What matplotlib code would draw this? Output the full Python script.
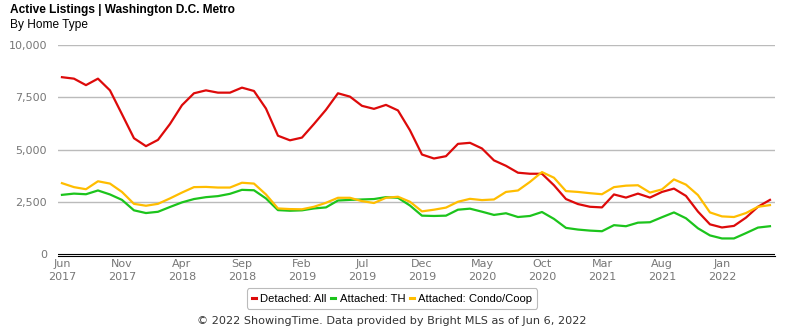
import matplotlib
matplotlib.use("Agg")
import matplotlib.pyplot as plt
from matplotlib.lines import Line2D
import numpy as np

# monthly active listings, Jun 2017 - May 2022
detached = [8460, 8390, 8080, 8390, 7830, 6690, 5540, 5160, 5460, 6220,
            7120, 7690, 7830, 7720, 7720, 7960, 7800, 6960, 5660, 5440,
            5570, 6220, 6900, 7690, 7530, 7090, 6945, 7135, 6870, 5920,
            4760, 4570, 4680, 5270, 5320, 5050, 4480, 4220, 3890, 3840,
            3840, 3290, 2630, 2390, 2260, 2230, 2850, 2700, 2890, 2700,
            2970, 3130, 2780, 2030, 1420, 1270, 1345, 1740, 2260, 2590]
townhouse = [2830, 2890, 2860, 3040, 2850, 2590, 2090, 1960, 2020, 2250,
             2470, 2630, 2720, 2770, 2880, 3070, 3050, 2660, 2100, 2070,
             2090, 2180, 2230, 2560, 2590, 2610, 2630, 2720, 2690, 2320,
             1835, 1820, 1835, 2120, 2170, 2025, 1870, 1950, 1770, 1820,
             2010, 1680, 1250, 1170, 1120, 1090, 1380, 1330, 1500, 1520,
             1760, 1990, 1710, 1230, 890, 745, 745, 1000, 1265, 1330]
condo = [3390, 3200, 3100, 3480, 3370, 2970, 2400, 2310, 2400, 2660,
         2940, 3200, 3210, 3180, 3180, 3410, 3370, 2850, 2180, 2150,
         2140, 2260, 2450, 2690, 2690, 2530, 2440, 2690, 2740, 2500,
         2040, 2120, 2220, 2500, 2640, 2580, 2610, 2970, 3040, 3450,
         3920, 3650, 3010, 2970, 2910, 2860, 3200, 3270, 3290, 2940,
         3090, 3570, 3320, 2820, 1990, 1800, 1770, 1960, 2260, 2340]

tick_labels = ["Jun\n2017", "Nov\n2017", "Apr\n2018", "Sep\n2018",
               "Feb\n2019", "Jul\n2019", "Dec\n2019", "May\n2020",
               "Oct\n2020", "Mar\n2021", "Aug\n2021", "Jan\n2022"]

series = [("Detached: All", detached, "#dd0a0a"),
          ("Attached: TH", townhouse, "#1cc41c"),
          ("Attached: Condo/Coop", condo, "#ffbd00")]

fig = plt.figure(figsize=(7.85, 3.3), dpi=100)
ax = fig.add_axes([58/785, 1 - 256/330, (775-58)/785, (256-45)/330])

x = np.arange(len(detached))
for name, vals, col in series:
    ax.plot(x, vals, color=col, linewidth=1.6, solid_joinstyle="round")

# gridlines + double baseline (0 line and the spine just below it)
ax.set_ylim(-95, 10000)
ax.set_xlim(-0.33, 59.42)
for v in [2500, 5000, 7500, 10000]:
    ax.axhline(v, color="#bbbbbb", linewidth=1.0, zorder=0)
ax.axhline(0, color="black", linewidth=0.8, zorder=3)
for s in ["top", "right", "left"]:
    ax.spines[s].set_visible(False)
ax.spines["bottom"].set_linewidth(0.8)

ax.set_yticks([0, 2500, 5000, 7500, 10000])
ax.set_yticklabels(["0", "2,500", "5,000", "7,500", "10,000"])
ax.set_xticks(np.arange(0, 60, 5))
ax.set_xticklabels(tick_labels, linespacing=1.4)
ax.tick_params(axis="both", length=0, labelsize=8, labelcolor="#777777")
ax.tick_params(axis="y", pad=8)
ax.tick_params(axis="x", pad=2)

fig.text(10/785, 1 - 10/330, "Active Listings | Washington D.C. Metro",
         fontsize=8.6, fontweight="bold", family="Liberation Sans",
         va="center", ha="left")
fig.text(10/785, 1 - 25/330, "By Home Type", fontsize=8.6,
         family="Liberation Sans", va="center", ha="left")

handles = [Line2D([0], [0], color=c, linewidth=2.2) for _, _, c in series]
leg = fig.legend(handles, [n for n, _, _ in series], loc="center",
                 bbox_to_anchor=(392/785, 1 - 298.5/330), ncol=3,
                 handlelength=0.35, handletextpad=0.4, columnspacing=0.4,
                 frameon=True, fancybox=True, borderpad=0.45,
                 prop={"family": "Liberation Sans", "size": 8.1})
leg.get_frame().set_edgecolor("#aaaaaa")
leg.get_frame().set_linewidth(0.8)

fig.text(392/785, 1 - 321/330,
         "\u00a9 2022 ShowingTime. Data provided by Bright MLS as of Jun 6, 2022",
         fontsize=8.1, color="#333333", ha="center", va="center")

fig.savefig("out.png", dpi=100)
